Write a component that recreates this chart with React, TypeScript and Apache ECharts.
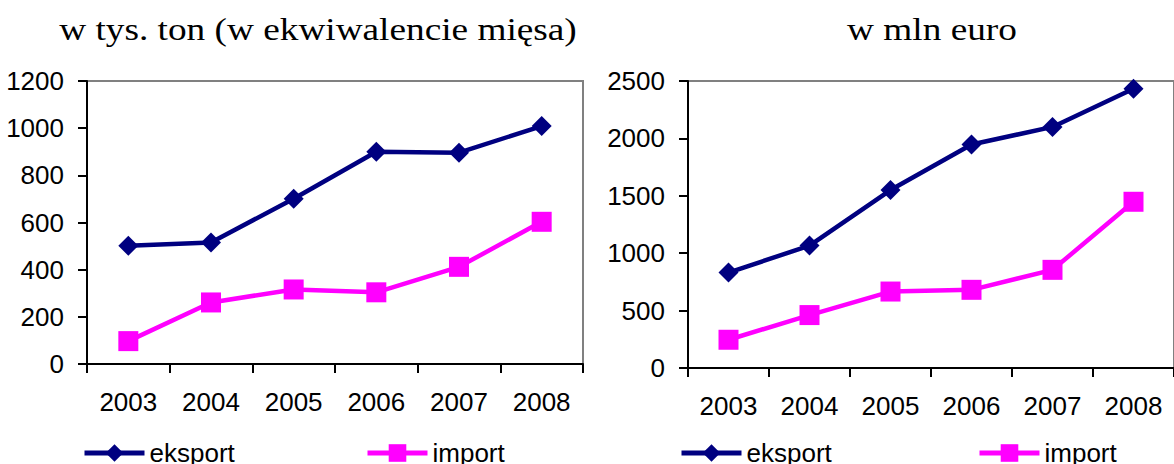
import React, { useEffect, useRef } from "react";
import * as echarts from "echarts";

const years = ["2003", "2004", "2005", "2006", "2007", "2008"];
const exportTons = [501, 515, 701, 900, 896, 1009];
const importTons = [97, 261, 316, 304, 412, 603];
const exportEur = [831, 1066, 1550, 1947, 2100, 2433];
const importEur = [246, 461, 666, 681, 855, 1448];
const titleLeft = "w tys. ton (w ekwiwalencie mięsa)";
const titleRight = "w mln euro";
const nameExport = "eksport";
const nameImport = "import";

const NAVY = "#000080";
const MAGENTA = "#FF00FF";
const SANS = '"Liberation Sans", Arial, sans-serif';
const SERIF = '"Liberation Serif", "Times New Roman", serif';

export default function App() {
  const ref = useRef<HTMLDivElement>(null);
  useEffect(() => {
    if (!ref.current) return;
    const chart = echarts.init(ref.current, null, { renderer: "svg" });
    const axisLabel = { color: "#000", fontSize: 26, fontFamily: SANS };
    const xAxisBase = (gridIndex: number) => ({
      type: "category" as const,
      gridIndex,
      data: years,
      boundaryGap: true,
      axisLine: { lineStyle: { color: "#000", width: 2 } },
      axisTick: { show: true, length: 9, lineStyle: { color: "#000", width: 2 } },
      axisLabel: { ...axisLabel, margin: 25 },
      splitLine: { show: false },
    });
    const yAxisBase = (gridIndex: number, max: number, interval: number) => ({
      type: "value" as const,
      gridIndex,
      min: 0,
      max,
      interval,
      axisLine: { show: true, lineStyle: { color: "#000", width: 2 } },
      axisTick: { show: true, length: 9, lineStyle: { color: "#000", width: 2 } },
      axisLabel: { ...axisLabel, margin: 23, formatter: (v: number) => String(v) },
      splitLine: { show: false },
    });
    const exportSeries = (i: number, data: number[]) => ({
      name: nameExport,
      type: "line" as const,
      xAxisIndex: i,
      yAxisIndex: i,
      data,
      symbol: "diamond",
      symbolSize: 20,
      lineStyle: { color: NAVY, width: 4.5 },
      itemStyle: { color: NAVY },
      z: 3,
    });
    const importSeries = (i: number, data: number[]) => ({
      name: nameImport,
      type: "line" as const,
      xAxisIndex: i,
      yAxisIndex: i,
      data,
      symbol: "rect",
      symbolSize: 20,
      lineStyle: { color: MAGENTA, width: 4.5 },
      itemStyle: { color: MAGENTA },
      z: 2,
    });
    const legend = (left: number, name: string) => ({
      left,
      top: 440,
      padding: 0,
      itemWidth: 60,
      itemHeight: 22,
      itemGap: 5,
      data: [name],
      selectedMode: false,
      lineStyle: { width: 5 },
      textStyle: { color: "#000", fontSize: 26, fontFamily: SANS, padding: [0, 0, 0, 0] },
    });
    chart.setOption({
      animation: false,
      backgroundColor: "#fff",
      grid: [
        { left: 87, top: 81, width: 496, height: 283, show: true, borderColor: "#808080", borderWidth: 2, backgroundColor: "transparent" },
        { left: 688, top: 81, width: 498, height: 287, show: true, borderColor: "#808080", borderWidth: 2, backgroundColor: "transparent" },
      ],
      xAxis: [xAxisBase(0), xAxisBase(1)],
      yAxis: [yAxisBase(0, 1200, 200), yAxisBase(1, 2500, 500)],
      series: [
        exportSeries(0, exportTons),
        importSeries(0, importTons),
        exportSeries(1, exportEur),
        importSeries(1, importEur),
      ],
      legend: [
        legend(82, nameExport),
        legend(365, nameImport),
        legend(679, nameExport),
        legend(977, nameImport),
      ],
      graphic: [
        {
          type: "text",
          x: 318,
          y: 29,
          scaleX: 1.165,
          style: {
            text: titleLeft,
            fontSize: 32,
            fontFamily: SERIF,
            align: "center",
            verticalAlign: "middle",
            textAlign: "center",
            textVerticalAlign: "middle",
            fill: "#000",
          },
        },
        {
          type: "text",
          x: 932,
          y: 29,
          scaleX: 1.165,
          style: {
            text: titleRight,
            fontSize: 32,
            fontFamily: SERIF,
            align: "center",
            verticalAlign: "middle",
            textAlign: "center",
            textVerticalAlign: "middle",
            fill: "#000",
          },
        },
      ],
    });
    return () => chart.dispose();
  }, []);
  return (
    <div
      ref={ref}
      style={{ position: "fixed", left: 0, top: 0, width: 1174, height: 464, overflow: "hidden" }}
    />
  );
}
